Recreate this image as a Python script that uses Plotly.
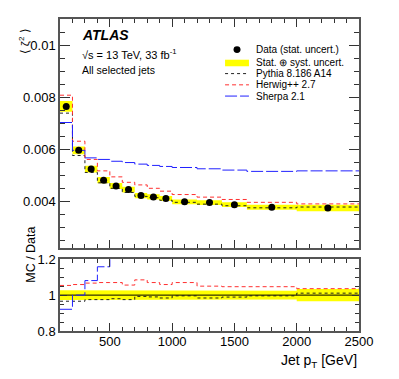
import plotly.graph_objects as go

# bin edges in jet pT [GeV]
edges = [100, 200, 300, 400, 500, 600, 700, 800, 900, 1000, 1200, 1400, 1600, 2000, 2500]
centers = [150, 250, 350, 450, 550, 650, 750, 850, 950, 1100, 1300, 1500, 1800, 2250]

data = [0.00764, 0.00595, 0.00523, 0.00480, 0.00458, 0.00444, 0.00421, 0.00416, 0.00410,
        0.00397, 0.00394, 0.00386, 0.00376, 0.00373]
unc = [0.027, 0.025, 0.025, 0.025, 0.025, 0.025, 0.024, 0.024, 0.023, 0.023, 0.023, 0.023,
       0.025, 0.034]

pythia = [0.00738, 0.00575, 0.00510, 0.00470, 0.00449, 0.00433, 0.00418, 0.00413, 0.00403,
          0.00395, 0.00388, 0.00382, 0.00374, 0.00377]
herwig = [0.00807, 0.00630, 0.00560, 0.00516, 0.00493, 0.00472, 0.00462, 0.00449, 0.00438,
          0.00425, 0.00415, 0.00406, 0.00395, 0.00389]
sherpa = [0.00702, 0.00595, 0.00566, 0.00560, 0.00553, 0.00548, 0.00542, 0.00537, 0.00533,
          0.00529, 0.00524, 0.00519, 0.00514, 0.00516]

r_pythia = [0.966, 0.966, 0.975, 0.975, 0.980, 0.975, 0.993, 0.990, 0.984, 0.996, 0.984,
            0.989, 0.996, 1.011]
r_herwig = [1.054, 1.059, 1.067, 1.070, 1.070, 1.056, 1.085, 1.070, 1.059, 1.070, 1.050,
            1.047, 1.047, 1.036]
r_sherpa = [0.921, 1.000, 1.081, 1.158, 1.21, 1.23, 1.28, 1.29, 1.30, 1.33, 1.33, 1.34,
            1.37, 1.38]

FONT = "Liberation Sans, Arial, sans-serif"


def step(vals):
    return vals + [vals[-1]]


def band(lo, hi):
    xs, ys = [], []
    for i in range(len(lo)):
        xs += [edges[i], edges[i + 1]]
        ys += [hi[i], hi[i]]
    for i in reversed(range(len(lo))):
        xs += [edges[i + 1], edges[i]]
        ys += [lo[i], lo[i]]
    return xs, ys


fig = go.Figure()

# top panel
bx, by = band([d * (1 - u) for d, u in zip(data, unc)], [d * (1 + u) for d, u in zip(data, unc)])
fig.add_trace(go.Scatter(x=bx, y=by, fill='toself', fillcolor='#ffff00', line=dict(width=0),
                         mode='lines', xaxis='x', yaxis='y', hoverinfo='skip'))
fig.add_trace(go.Scatter(x=edges, y=step(pythia), mode='lines', line_shape='hv',
                         line=dict(color='#222', width=1, dash='dot'), xaxis='x', yaxis='y'))
fig.add_trace(go.Scatter(x=edges, y=step(herwig), mode='lines', line_shape='hv',
                         line=dict(color='#ff3030', width=1, dash='4px,3px'), xaxis='x', yaxis='y'))
fig.add_trace(go.Scatter(x=edges, y=step(sherpa), mode='lines', line_shape='hv',
                         line=dict(color='#2020ff', width=1, dash='12px,3px'), xaxis='x', yaxis='y'))
fig.add_trace(go.Scatter(x=centers, y=data, mode='markers',
                         marker=dict(color='black', size=7), xaxis='x', yaxis='y'))

# ratio panel
bx, by = band([1 - u for u in unc], [1 + u for u in unc])
fig.add_trace(go.Scatter(x=bx, y=by, fill='toself', fillcolor='#ffff00', line=dict(width=0),
                         mode='lines', xaxis='x2', yaxis='y2', hoverinfo='skip'))
fig.add_trace(go.Scatter(x=[edges[0], edges[-1]], y=[1, 1], mode='lines',
                         line=dict(color='black', width=1), xaxis='x2', yaxis='y2'))
fig.add_trace(go.Scatter(x=edges, y=step(r_pythia), mode='lines', line_shape='hv',
                         line=dict(color='#222', width=1, dash='dot'), xaxis='x2', yaxis='y2'))
fig.add_trace(go.Scatter(x=edges, y=step(r_herwig), mode='lines', line_shape='hv',
                         line=dict(color='#ff3030', width=1, dash='4px,3px'), xaxis='x2', yaxis='y2'))
fig.add_trace(go.Scatter(x=edges, y=step(r_sherpa), mode='lines', line_shape='hv',
                         line=dict(color='#2020ff', width=1, dash='12px,3px'), xaxis='x2', yaxis='y2'))

axcommon = dict(showgrid=False, zeroline=False, showline=True, linecolor='#555', linewidth=1.5,
                mirror='allticks', ticks='inside', tickcolor='#333',
                tickfont=dict(family=FONT, size=13, color='black'))

# page body has an 8px margin, so the figure is 16px smaller than the window
fig.update_layout(
    width=383, height=363,
    margin=dict(l=52, r=32, t=4, b=40),
    paper_bgcolor='white', plot_bgcolor='white',
    showlegend=False,
    xaxis=dict(axcommon, domain=[0, 1], range=[100, 2500], anchor='y', matches='x2',
               tickvals=[500, 1000, 1500, 2000, 2500], showticklabels=False, ticklen=8,
               minor=dict(dtick=100, tick0=0, ticklen=4, ticks='inside', tickcolor='#333')),
    yaxis=dict(axcommon, domain=[0.2665, 1], range=[0.0022, 0.011], anchor='x',
               tickvals=[0.004, 0.006, 0.008, 0.01], ticktext=['0.004', '0.006', '0.008', '0.01'],
               ticklen=10,
               minor=dict(dtick=0.0005, tick0=0, ticklen=5, ticks='inside', tickcolor='#333')),
    xaxis2=dict(axcommon, domain=[0, 1], range=[100, 2500], anchor='y2',
                tickvals=[500, 1000, 1500, 2000, 2500], ticklen=8, ticklabelstandoff=-2,
                minor=dict(dtick=100, tick0=0, ticklen=4, ticks='inside', tickcolor='#333')),
    yaxis2=dict(axcommon, domain=[0, 0.23], range=[0.8, 1.2], anchor='x2',
                tickvals=[0.8, 1, 1.2], ticktext=['0.8', '1', '1.2'], ticklen=7,
                minor=dict(dtick=0.05, tick0=0, ticklen=4, ticks='inside', tickcolor='#333')),
)

ann = [
    dict(x=0.067, y=0.95, text='<b><i>ATLAS</i></b>', size=14),
    dict(x=0.067, y=0.887, text='√s = 13 TeV, 33 fb<sup>-1</sup>', size=11),
    dict(x=0.067, y=0.837, text='All selected jets', size=10.5),
]
for a in ann:
    fig.add_annotation(x=a['x'], y=a['y'], xref='paper', yref='paper', text=a['text'],
                       showarrow=False, xanchor='left', yanchor='middle',
                       font=dict(family=FONT, size=a['size'], color='black'))

# legend
leg_y = [0.902, 0.859, 0.825, 0.789, 0.753]
leg_txt = ['Data (stat. uncert.)', 'Stat. ⊕ syst. uncert.', 'Pythia 8.186 A14',
           'Herwig++ 2.7', 'Sherpa 2.1']
for yy, t in zip(leg_y, leg_txt):
    fig.add_annotation(x=0.649, y=yy, xref='paper', yref='paper', text=t, showarrow=False,
                       xanchor='left', yanchor='middle', font=dict(family=FONT, size=10, color='black'))
fig.add_shape(type='circle', xref='paper', yref='paper', x0=0.592 - 0.0117, x1=0.592 + 0.0117,
              y0=leg_y[0] - 0.011, y1=leg_y[0] + 0.011, fillcolor='black', line=dict(width=0))
fig.add_shape(type='rect', xref='paper', yref='paper', x0=0.552, x1=0.632,
              y0=leg_y[1] - 0.0105, y1=leg_y[1] + 0.0105, fillcolor='#ffff00', line=dict(width=0))
for yy, col, dash in [(leg_y[2], '#222', 'dot'), (leg_y[3], '#ff3030', '4px,3px'),
                      (leg_y[4], '#2020ff', '12px,3px')]:
    fig.add_shape(type='line', xref='paper', yref='paper', x0=0.552, x1=0.632, y0=yy, y1=yy,
                  line=dict(color=col, width=1, dash=dash))

# axis titles
fig.add_annotation(x=-0.152, y=0.975, xref='paper', yref='paper', text='⟨ ζ<sup>2</sup> ⟩',
                   textangle=-90, showarrow=False, font=dict(family=FONT, size=11.5, color='black'))
fig.add_annotation(x=-0.125, y=0.147, xref='paper', yref='paper', text='MC / Data',
                   textangle=-90, showarrow=False, font=dict(family=FONT, size=12.5, color='black'))
fig.add_annotation(x=1.0, y=-0.095, xref='paper', yref='paper', text='Jet p<sub>T</sub> [GeV]',
                   showarrow=False, xanchor='right', yanchor='middle',
                   font=dict(family=FONT, size=14, color='black'))

fig.write_html("out.html")
